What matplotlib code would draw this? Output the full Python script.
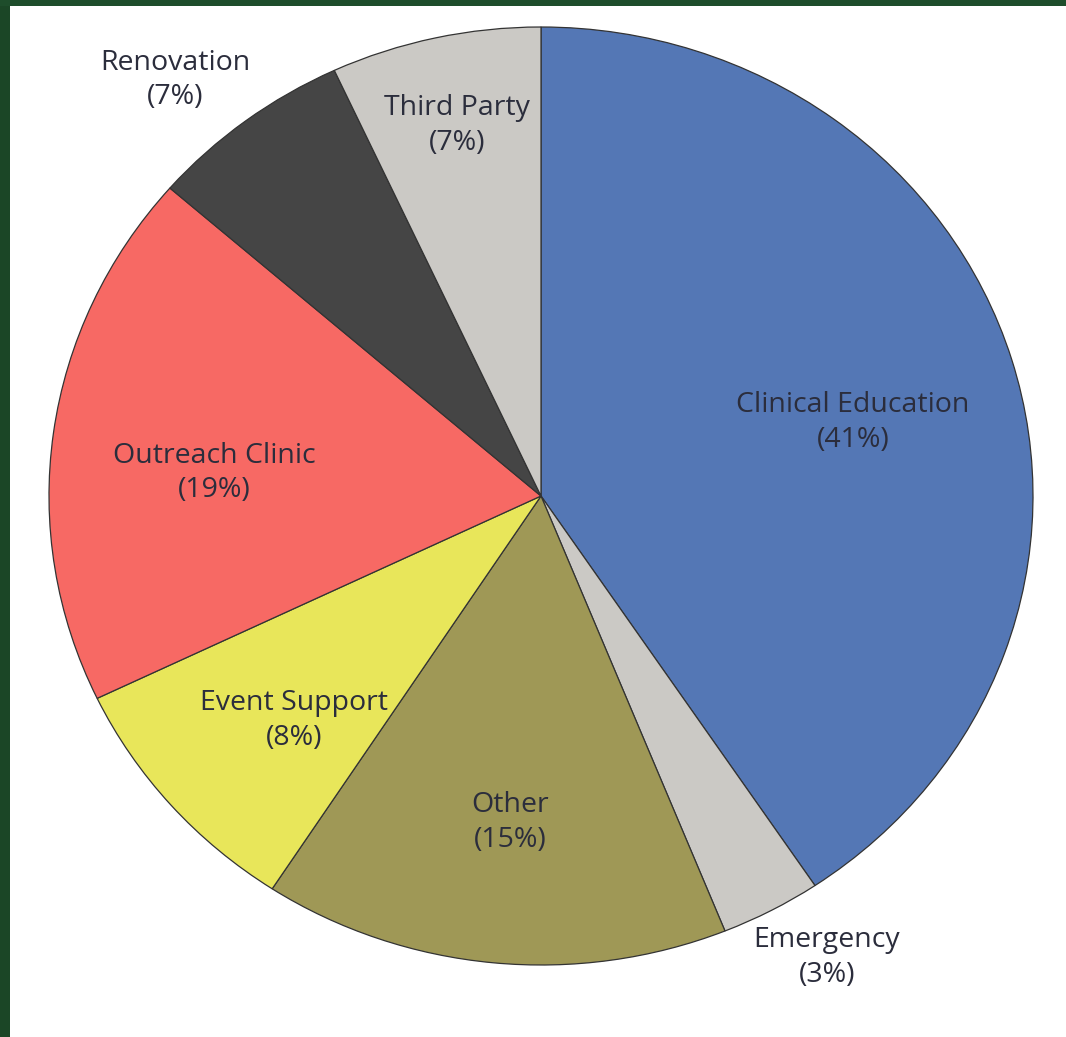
import matplotlib
matplotlib.use("Agg")
import matplotlib.pyplot as plt
from matplotlib.patches import Rectangle

categories = ["Clinical Education", "Emergency", "Other", "Event Support",
              "Outreach Clinic", "Renovation", "Third Party"]
values = [40.6, 3.3, 15.3, 8.7, 18.5, 6.7, 6.9]
pct_labels = ["41%", "3%", "15%", "8%", "19%", "7%", "7%"]

colors = ["#5477B5", "#CBC9C5", "#9F9856", "#E8E65A", "#F76964", "#454545", "#CBC9C5"]
# label centres in axes data coordinates (layout)
label_pos = [(0.634, 0.156), (0.581, -0.985), (-0.063, -0.697), (-0.502, -0.478),
             (-0.665, 0.049), (-0.744, 0.887), (-0.171, 0.789)]

fig = plt.figure(figsize=(10.66, 10.37), dpi=100)
fig.patch.set_facecolor("white")

# dark green frame at left and top
fig.add_artist(Rectangle((0, 0), 10 / 1066, 1, transform=fig.transFigure,
                         facecolor="#1B4626", edgecolor="none"))
fig.add_artist(Rectangle((0, 1 - 6 / 1037), 1, 6 / 1037, transform=fig.transFigure,
                         facecolor="#1E4D2B", edgecolor="none"))

ax = fig.add_axes([49 / 1066, (1037 - 965) / 1037, 984 / 1066, 938 / 1037])
ax.pie(values, colors=colors, startangle=90, counterclock=False, radius=1,
       wedgeprops=dict(edgecolor="#333333", linewidth=0.9))
ax.set_aspect("auto")
ax.set_xlim(-1, 1)
ax.set_ylim(-1, 1)
ax.axis("off")

for name, pct, (x, y) in zip(categories, pct_labels, label_pos):
    ax.text(x, y, f"{name}\n({pct})", ha="center", va="center",
            fontsize=20.5, family="Open Sans", color="#2B2D3C",
            linespacing=1.33, clip_on=False)

fig.savefig("out.png", dpi=100, facecolor="white")
